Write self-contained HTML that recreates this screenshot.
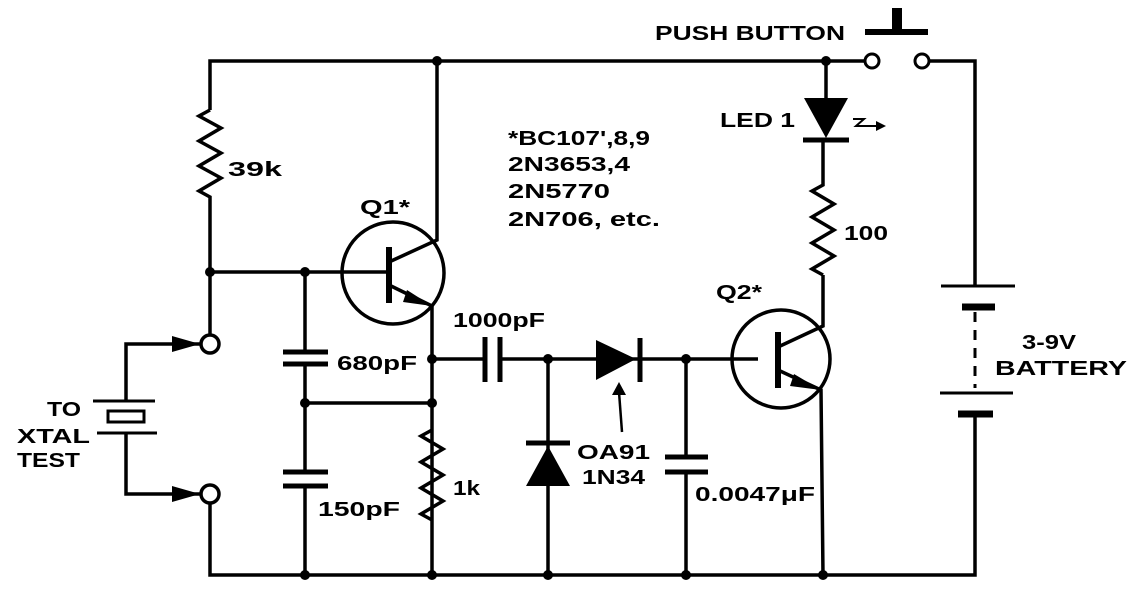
<!DOCTYPE html>
<html><head><meta charset="utf-8"><style>
html,body{margin:0;padding:0;background:#fff;}
svg{display:block;}
text{font-family:"Liberation Sans",sans-serif;font-weight:bold;font-size:20px;fill:#000;}
</style></head><body>
<svg width="1137" height="609" viewBox="0 0 1137 609" xmlns="http://www.w3.org/2000/svg">
<g stroke="#000" stroke-width="3.5" fill="none" stroke-linejoin="miter">
<polyline points="210,110 210,61 865,61"/>
<polyline points="929,61 975,61 975,286"/>
<polyline points="210,503 210,575 975,575 975,414"/>
<polyline points="210,110 199,116 221,128 199,141 221,153 199,166 221,178 199,191 210,197 210,335"/>
<line x1="210" y1="272" x2="391" y2="272"/>
<circle cx="393" cy="273" r="51"/>
<line x1="389" y1="247" x2="389" y2="303" stroke-width="6"/>
<polyline points="389,262 437,240 437,61"/>
<polyline points="389,285 432,306 432,575"/>
<line x1="305" y1="272" x2="305" y2="352"/>
<line x1="283" y1="352" x2="328" y2="352" stroke-width="5"/>
<line x1="283" y1="364" x2="328" y2="364" stroke-width="5"/>
<line x1="305" y1="364" x2="305" y2="472"/>
<line x1="283" y1="472" x2="328" y2="472" stroke-width="5"/>
<line x1="283" y1="486" x2="328" y2="486" stroke-width="5"/>
<line x1="305" y1="486" x2="305" y2="575"/>
<line x1="305" y1="403" x2="432" y2="403"/>
<polyline points="432,430 421,436 443,449 421,462 443,475 421,488 443,501 421,514 432,520"/>
<line x1="432" y1="359" x2="485" y2="359"/>
<line x1="485" y1="337" x2="485" y2="382" stroke-width="5"/>
<line x1="500" y1="337" x2="500" y2="382" stroke-width="5"/>
<line x1="500" y1="359" x2="758" y2="359"/>
<line x1="640" y1="338" x2="640" y2="382" stroke-width="5"/>
<line x1="548" y1="359" x2="548" y2="575"/>
<line x1="526" y1="443" x2="570" y2="443" stroke-width="5"/>
<line x1="686" y1="359" x2="686" y2="457"/>
<line x1="665" y1="457" x2="708" y2="457" stroke-width="5"/>
<line x1="665" y1="472" x2="708" y2="472" stroke-width="5"/>
<line x1="686" y1="472" x2="686" y2="575"/>
<line x1="622" y1="432" x2="619" y2="392" stroke-width="2.5"/>
<circle cx="781" cy="359" r="49"/>
<line x1="778" y1="332" x2="778" y2="388" stroke-width="6"/>
<polyline points="778,347 823,326 823,275"/>
<polyline points="778,370 821,390 823,575"/>
<polyline points="823,275 812,269 834,256 812,243 834,230 812,217 834,204 812,191 823,185 823,140"/>
<line x1="826" y1="61" x2="826" y2="100"/>
<line x1="803" y1="140" x2="849" y2="140" stroke-width="5"/>
<polyline points="853,119 864,119 856,126 869,126" stroke-width="2"/>
<line x1="869" y1="126" x2="880" y2="126" stroke-width="2"/>
<circle cx="872" cy="61" r="7" stroke-width="3"/>
<circle cx="922" cy="61" r="7" stroke-width="3"/>
<line x1="865" y1="32" x2="928" y2="32" stroke-width="6"/>
<line x1="897" y1="8" x2="897" y2="32" stroke-width="10"/>
<line x1="941" y1="286" x2="1015" y2="286" stroke-width="3"/>
<line x1="962" y1="307" x2="995" y2="307" stroke-width="7"/>
<line x1="975" y1="312" x2="975" y2="388" stroke-dasharray="10,8" stroke-width="3"/>
<line x1="940" y1="393" x2="1013" y2="393" stroke-width="3"/>
<line x1="958" y1="414" x2="993" y2="414" stroke-width="7"/>
<polyline points="200,344 126,344 126,401"/>
<polyline points="200,494 126,494 126,433"/>
<line x1="93" y1="401" x2="155" y2="401" stroke-width="3"/>
<line x1="97" y1="433" x2="157" y2="433" stroke-width="3"/>
<rect x="108" y="411" width="36" height="11" stroke-width="3"/>
<circle cx="210" cy="344" r="9" fill="#fff"/>
<circle cx="210" cy="494" r="9" fill="#fff"/>
</g>
<g fill="#000">
<circle cx="437" cy="61" r="5"/><circle cx="826" cy="61" r="5"/>
<circle cx="210" cy="272" r="5"/><circle cx="305" cy="272" r="5"/>
<circle cx="432" cy="359" r="5"/><circle cx="432" cy="403" r="5"/><circle cx="305" cy="403" r="5"/>
<circle cx="548" cy="359" r="5"/><circle cx="686" cy="359" r="5"/>
<circle cx="305" cy="575" r="5"/><circle cx="432" cy="575" r="5"/><circle cx="548" cy="575" r="5"/>
<circle cx="686" cy="575" r="5"/><circle cx="823" cy="575" r="5"/>
<polygon points="172,336 200,344 172,352"/>
<polygon points="172,486 200,494 172,502"/>
<polygon points="407,290 432,306 403,302"/>
<polygon points="794,374 821,390 790,386"/>
<polygon points="596,340 596,380 636,359"/>
<polygon points="548,446 526,486 570,486"/>
<polygon points="804,98 848,98 826,138"/>
<polygon points="612,395 619,382 626,395"/>
<polygon points="876,121 886,126 876,131"/>
</g>
<text x="228" y="176" textLength="54" lengthAdjust="spacingAndGlyphs">39k</text>
<text x="360" y="214" textLength="50" lengthAdjust="spacingAndGlyphs">Q1*</text>
<text x="337" y="370" textLength="80" lengthAdjust="spacingAndGlyphs">680pF</text>
<text x="318" y="516" textLength="82" lengthAdjust="spacingAndGlyphs">150pF</text>
<text x="453" y="495" textLength="27" lengthAdjust="spacingAndGlyphs">1k</text>
<text x="453" y="327" textLength="92" lengthAdjust="spacingAndGlyphs">1000pF</text>
<text x="508" y="145" textLength="142" lengthAdjust="spacingAndGlyphs">*BC107',8,9</text>
<text x="508" y="171" textLength="122" lengthAdjust="spacingAndGlyphs">2N3653,4</text>
<text x="508" y="198" textLength="102" lengthAdjust="spacingAndGlyphs">2N5770</text>
<text x="508" y="226" textLength="152" lengthAdjust="spacingAndGlyphs">2N706, etc.</text>
<text x="720" y="127" textLength="75" lengthAdjust="spacingAndGlyphs">LED 1</text>
<text x="844" y="240" textLength="44" lengthAdjust="spacingAndGlyphs">100</text>
<text x="716" y="299" textLength="46" lengthAdjust="spacingAndGlyphs">Q2*</text>
<text x="577" y="459" textLength="73" lengthAdjust="spacingAndGlyphs">OA91</text>
<text x="582" y="484" textLength="63" lengthAdjust="spacingAndGlyphs">1N34</text>
<text x="695" y="501" textLength="120" lengthAdjust="spacingAndGlyphs">0.0047μF</text>
<text x="655" y="40" textLength="190" lengthAdjust="spacingAndGlyphs">PUSH BUTTON</text>
<text x="1022" y="349" textLength="54" lengthAdjust="spacingAndGlyphs">3-9V</text>
<text x="995" y="375" textLength="132" lengthAdjust="spacingAndGlyphs">BATTERY</text>
<text x="47" y="416" textLength="34" lengthAdjust="spacingAndGlyphs">TO</text>
<text x="17" y="443" textLength="73" lengthAdjust="spacingAndGlyphs">XTAL</text>
<text x="17" y="467" textLength="63" lengthAdjust="spacingAndGlyphs">TEST</text>
</svg>
</body></html>
